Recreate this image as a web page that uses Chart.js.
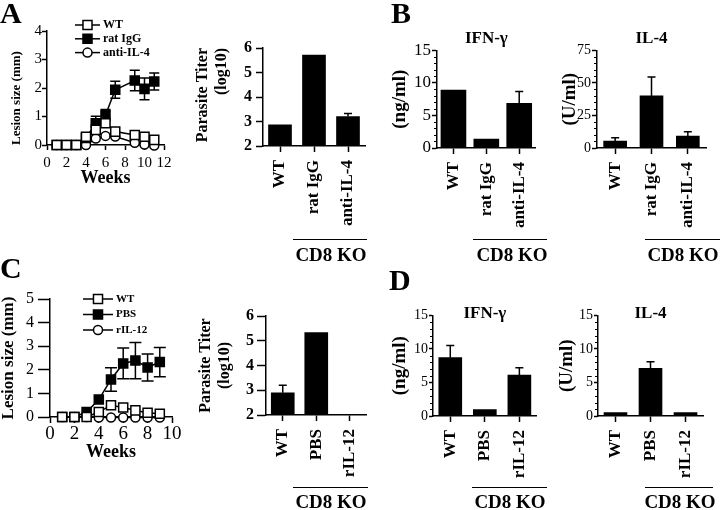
<!DOCTYPE html>
<html>
<head>
<meta charset="utf-8">
<script src="https://cdn.jsdelivr.net/npm/chart.js@4.4.0/dist/chart.umd.min.js"></script>
<style>
  body { margin: 0; background: #fff; }
  #fig { position: relative; width: 720px; height: 510px; overflow: hidden; font-family: 'Liberation Serif', 'Times New Roman', serif; color: #000; }
  #fig canvas { position: absolute; }
  .letter { position: absolute; font-weight: bold; font-size: 30px; line-height: 30px; }
  .ko { position: absolute; font-weight: bold; font-size: 19px; line-height: 19px; transform: translate(-50%, -50%); white-space: nowrap; }
  .rule { position: absolute; height: 0; border-top: 1.5px solid #000; }
</style>
</head>
<body>
<div id="fig">
  <canvas id="lineA" width="180" height="195" style="left:0px;top:0px"></canvas>
  <canvas id="titerA" width="200" height="220" style="left:180px;top:20px"></canvas>
  <canvas id="ifnB" width="170" height="240" style="left:380px;top:0px"></canvas>
  <canvas id="il4B" width="170" height="240" style="left:550px;top:0px"></canvas>
  <canvas id="lineC" width="185" height="205" style="left:0px;top:262px"></canvas>
  <canvas id="titerC" width="200" height="205" style="left:180px;top:285px"></canvas>
  <canvas id="ifnD" width="170" height="220" style="left:380px;top:270px"></canvas>
  <canvas id="il4D" width="170" height="220" style="left:550px;top:270px"></canvas>

  <div class="letter" style="left:0px;top:-2px">A</div>
  <div class="letter" style="left:391px;top:-2px">B</div>
  <div class="letter" style="left:0px;top:253px">C</div>
  <div class="letter" style="left:389px;top:265px">D</div>

  <div class="rule" style="left:293px;top:239px;width:74px"></div>
  <div class="rule" style="left:473px;top:239px;width:74px"></div>
  <div class="rule" style="left:645px;top:239px;width:75px"></div>
  <div class="rule" style="left:293px;top:487px;width:75px"></div>
  <div class="rule" style="left:472px;top:487px;width:75px"></div>
  <div class="rule" style="left:645px;top:487px;width:68px"></div>
  <div class="ko" style="left:331px;top:254px">CD8 KO</div>
  <div class="ko" style="left:512px;top:254px">CD8 KO</div>
  <div class="ko" style="left:683px;top:254px">CD8 KO</div>
  <div class="ko" style="left:331px;top:501px">CD8 KO</div>
  <div class="ko" style="left:510px;top:501px">CD8 KO</div>
  <div class="ko" style="left:680px;top:501px">CD8 KO</div>
</div>

<script>
// ---- data ----
const weeksA = [1, 2, 3, 4, 5, 6, 7, 9, 10, 11];
const wtA = [0, 0, 0, 0.29, 0.53, 0.76, 0.47, 0.35, 0.29, 0.18];
const ratIgGA = [0, 0, 0, 0.25, 0.76, 1.05, 1.94, 2.26, 1.97, 2.23];
const ratIgGErrA = [0, 0, 0, 0, 0.25, 0.2, 0.3, 0.36, 0.38, 0.3];
const antiIL4A = [0, 0, 0, 0, 0.23, 0.32, 0.3, 0.08, 0.02, -0.02];

const weeksC = [1, 2, 3, 4, 5, 6, 7, 8, 9];
const wtC = [0, 0, 0, 0.21, 0.5, 0.4, 0.28, 0.18, 0.14];
const pbsC = [0, 0, 0.21, 0.74, 1.59, 2.27, 2.39, 2.1, 2.33];
const pbsErrC = [0, 0, 0, 0, 0.5, 0.65, 0.77, 0.57, 0.62];
const rIL12C = [0, 0, 0, -0.02, -0.02, -0.02, -0.02, -0.02, -0.02];

const groupsA = ['WT', 'rat IgG', 'anti-IL-4'];
const groupsC = ['WT', 'PBS', 'rIL-12'];

const titerA = [2.86, 5.71, 3.2];
const titerErrA = [0, 0, 0.13];
const ifnB = [8.9, 1.37, 6.87];
const ifnErrB = [0, 0, 1.8];
const il4B = [5.4, 40, 9.1];
const il4ErrB = [2.5, 14.5, 3.3];

const titerC = [2.9, 5.33, 2];
const titerErrC = [0.3, 0, 0];
const ifnD = [8.7, 0.97, 6.1];
const ifnErrD = [1.8, 0, 1.1];
const il4D = [0.5, 7.1, 0.5];
const il4ErrD = [0, 1.0, 0];

// ---- plugins ----
function drawMarker(ctx, ds, x, y) {
  ctx.save();
  ctx.lineWidth = ds.pointBorderWidth;
  ctx.strokeStyle = ds.pointBorderColor;
  ctx.fillStyle = ds.pointBackgroundColor;
  ctx.beginPath();
  if (ds.pointStyle === 'rect') {
    const h = ds.pointRadius * Math.SQRT1_2;
    ctx.rect(x - h, y - h, 2 * h, 2 * h);
  } else {
    ctx.arc(x, y, ds.pointRadius, 0, Math.PI * 2);
  }
  ctx.fill();
  ctx.stroke();
  ctx.restore();
}

const errorBars = {
  id: 'errorBars',
  beforeDatasetsDraw(chart, args, opts) {
    const ctx = chart.ctx, ys = chart.scales.y;
    const cap = opts.cap || 8;
    chart.data.datasets.forEach((ds, i) => {
      if (!ds.errors) return;
      chart.getDatasetMeta(i).data.forEach((el, j) => {
        const e = ds.errors[j];
        if (!e) return;
        const d = ds.data[j];
        const v = typeof d === 'object' ? d.y : d;
        const top = ys.getPixelForValue(v + e);
        const bot = ys.getPixelForValue(opts.both ? v - e : v);
        ctx.save();
        ctx.strokeStyle = '#000';
        ctx.lineWidth = 1.5;
        ctx.beginPath();
        ctx.moveTo(el.x, bot);
        ctx.lineTo(el.x, top);
        ctx.moveTo(el.x - cap / 2, top);
        ctx.lineTo(el.x + cap / 2, top);
        if (opts.both) {
          ctx.moveTo(el.x - cap / 2, bot);
          ctx.lineTo(el.x + cap / 2, bot);
        }
        ctx.stroke();
        ctx.restore();
      });
    });
  }
};

const minorTicks = {
  id: 'minorTicks',
  afterDraw(chart, args, opts) {
    if (!opts.step) return;
    const s = chart.scales.y, ctx = chart.ctx;
    const major = s.options.ticks.stepSize;
    ctx.save();
    ctx.strokeStyle = '#000';
    ctx.lineWidth = 1;
    ctx.beginPath();
    for (let v = s.min; v <= s.max + 1e-9; v += opts.step) {
      const r = v / major;
      if (Math.abs(r - Math.round(r)) < 1e-6) continue;
      const py = Math.round(s.getPixelForValue(v)) + 0.5;
      ctx.moveTo(s.right - opts.length, py);
      ctx.lineTo(s.right, py);
    }
    ctx.stroke();
    ctx.restore();
  }
};

const insetLegend = {
  id: 'insetLegend',
  afterDraw(chart, args, opts) {
    if (!opts.x) return;
    const ctx = chart.ctx;
    chart.data.datasets.forEach((ds, i) => {
      const y = opts.y + i * opts.dy;
      ctx.save();
      ctx.strokeStyle = '#000';
      ctx.lineWidth = 1.5;
      ctx.beginPath();
      ctx.moveTo(opts.x, y);
      ctx.lineTo(opts.x + opts.len, y);
      ctx.stroke();
      drawMarker(ctx, ds, opts.x + opts.len / 2, y);
      ctx.fillStyle = '#000';
      ctx.font = 'bold ' + opts.size + "px 'Liberation Serif'";
      ctx.textBaseline = 'middle';
      ctx.fillText(ds.label, opts.x + opts.len + 3, y);
      ctx.restore();
    });
  }
};

Chart.register(errorBars, minorTicks, insetLegend);
Chart.defaults.font.family = "'Liberation Serif', 'Times New Roman', serif";
Chart.defaults.color = '#000';

// ---- helpers ----
function axisLook(tickLen) {
  return {
    grid: { drawOnChartArea: false, offset: false, tickLength: tickLen, tickColor: '#000', tickWidth: 1.5 },
    border: { color: '#000', width: 1.5 }
  };
}

function series(label, xs, ys, style, fill, errs) {
  return {
    label: label,
    data: xs.map((x, i) => ({ x: x, y: ys[i] })),
    errors: errs,
    borderColor: '#000',
    borderWidth: 1.5,
    pointStyle: style,
    pointRadius: style === 'rect' ? 6.4 : 4.5,
    pointBackgroundColor: fill,
    pointBorderColor: '#000',
    pointBorderWidth: 1.5,
    clip: false
  };
}

function lineChart(id, L) {
  return new Chart(document.getElementById(id), {
    type: 'line',
    data: { datasets: L.datasets },
    options: {
      responsive: false,
      animation: false,
      devicePixelRatio: 1,
      layout: { autoPadding: false, padding: { top: L.padTop, right: L.padRight, left: 0, bottom: 0 } },
      plugins: {
        legend: { display: false },
        tooltip: { enabled: false },
        insetLegend: L.legend,
        errorBars: { both: true, cap: L.cap }
      },
      scales: {
        x: Object.assign({
          type: 'linear', min: 0, max: L.xMax,
          afterFit: s => { s.height = L.xH; },
          ticks: { stepSize: 2, autoSkip: false, minRotation: 0, maxRotation: 0, padding: L.xPad, font: { size: L.xFont } },
          title: { display: true, text: 'Weeks', font: { size: 18, weight: 'bold', lineHeight: 1.2 }, padding: L.wPad }
        }, axisLook(L.xTick)),
        y: Object.assign({
          min: 0, max: L.yMax,
          afterFit: s => { s.width = L.yW; },
          ticks: { stepSize: 1, padding: L.yPad, font: { size: L.yFont } },
          title: { display: true, text: 'Lesion size (mm)', align: L.tAlign, font: { size: L.tFont, weight: 'bold', lineHeight: 1 }, padding: L.tPad }
        }, axisLook(L.yTick))
      }
    }
  });
}

function barChart(id, B) {
  return new Chart(document.getElementById(id), {
    type: 'bar',
    data: {
      labels: B.labels,
      datasets: [{ data: B.values, errors: B.errors, backgroundColor: '#000', barThickness: B.bar }]
    },
    options: {
      responsive: false,
      animation: false,
      devicePixelRatio: 1,
      layout: { autoPadding: false, padding: { top: B.padTop, right: B.padRight, left: 0, bottom: 0 } },
      plugins: {
        legend: { display: false },
        tooltip: { enabled: false },
        title: B.title ? {
          display: true, text: B.title, fullSize: false,
          font: { size: 17, weight: 'bold', lineHeight: 1.2 },
          padding: { top: 0, bottom: B.titleGap }
        } : { display: false },
        errorBars: { both: false, cap: 8 },
        minorTicks: { step: B.minor, length: 3 }
      },
      scales: {
        x: Object.assign({
          afterFit: s => { s.height = B.xH; },
          ticks: { minRotation: 90, maxRotation: 90, autoSkip: false, padding: 8, font: { size: 17, weight: 'bold' } }
        }, axisLook(6)),
        y: Object.assign({
          min: B.min, max: B.max,
          afterFit: s => { s.width = B.yW; },
          ticks: { stepSize: B.step, padding: B.yPad, font: { size: B.yFont, weight: B.yBold ? 'bold' : 'normal' } },
          title: { display: true, text: B.yTitle, align: B.tAlign || 'center', font: { size: B.tFont, weight: 'bold', lineHeight: 1.2 }, padding: B.tPad }
        }, axisLook(B.yTick))
      }
    }
  });
}

// ---- panel A ----
lineChart('lineA', {
  datasets: [
    series('WT', weeksA, wtA, 'rect', '#fff'),
    series('rat IgG', weeksA, ratIgGA, 'rect', '#000', ratIgGErrA),
    series('anti-IL-4', weeksA, antiIL4A, 'circle', '#fff')
  ],
  legend: { x: 75, y: 25, dy: 13.8, len: 25, size: 12 },
  cap: 10,
  padTop: 31, padRight: 16, xH: 50, yW: 47,
  xMax: 12, yMax: 4,
  xPad: 4, xFont: 15, xTick: 5, wPad: 6,
  yPad: 0, yFont: 15, yTick: 5,
  tFont: 13, tPad: 10.5, tAlign: 'start'
});

barChart('titerA', {
  labels: groupsA, values: titerA, errors: titerErrA, bar: 23,
  min: 2, max: 6, step: 1, yBold: true, yFont: 16, yPad: 4, yTick: 7,
  yTitle: ['Parasite Titer', '(log10)'], tFont: 16, tPad: 13, tAlign: 'end',
  padTop: 28, padRight: 15, xH: 94, yW: 83
});

// ---- panel B ----
barChart('ifnB', {
  labels: groupsA, values: ifnB, errors: ifnErrB, bar: 25,
  min: 0, max: 15, step: 5, minor: 1, yFont: 17, yPad: 1, yTick: 5,
  yTitle: '(ng/ml)', tFont: 19, tPad: 9,
  title: 'IFN-\u03b3', titleGap: 1.8,
  padTop: 28.2, padRight: 7, xH: 92, yW: 57
});

barChart('il4B', {
  labels: groupsA, values: il4B, errors: il4ErrB, bar: 23,
  min: 0, max: 75, step: 25, minor: 5, yFont: 14, yPad: 1, yTick: 5,
  yTitle: '(U/ml)', tFont: 19, tPad: 9,
  title: 'IL-4', titleGap: 1.8,
  padTop: 28.2, padRight: 14, xH: 92, yW: 47
});

// ---- panel C ----
lineChart('lineC', {
  datasets: [
    series('WT', weeksC, wtC, 'rect', '#fff'),
    series('PBS', weeksC, pbsC, 'rect', '#000', pbsErrC),
    series('rIL-12', weeksC, rIL12C, 'circle', '#fff')
  ],
  legend: { x: 83, y: 37, dy: 15.5, len: 30, size: 11 },
  cap: 12,
  padTop: 37, padRight: 13, xH: 50, yW: 50,
  xMax: 10, yMax: 5,
  xPad: 0, xFont: 19, xTick: 6, wPad: 4,
  yPad: 4, yFont: 16, yTick: 12,
  tFont: 17, tPad: 0, tAlign: 'center'
});

barChart('titerC', {
  labels: groupsC, values: titerC, errors: titerErrC, bar: 23,
  min: 2, max: 6, step: 1, yBold: true, yFont: 16, yPad: 3, yTick: 9,
  yTitle: ['Parasite Titer', '(log10)'], tFont: 16, tPad: 16,
  padTop: 31, padRight: 11, xH: 75, yW: 86
});

// ---- panel D ----
barChart('ifnD', {
  labels: groupsC, values: ifnD, errors: ifnErrD, bar: 23,
  min: 0, max: 15, step: 5, minor: 1, yFont: 14, yPad: 1, yTick: 4,
  yTitle: '(ng/ml)', tFont: 19, tPad: 8.5,
  title: 'IFN-\u03b3', titleGap: -8.2,
  padTop: 33.2, padRight: 7, xH: 74, yW: 53
});

barChart('il4D', {
  labels: groupsC, values: il4D, errors: il4ErrD, bar: 23,
  min: 0, max: 15, step: 5, minor: 1, yFont: 14, yPad: 1, yTick: 4,
  yTitle: '(U/ml)', tFont: 19, tPad: 6,
  title: 'IL-4', titleGap: -8.2,
  padTop: 33.2, padRight: 17, xH: 74, yW: 48
});
</script>
</body>
</html>
